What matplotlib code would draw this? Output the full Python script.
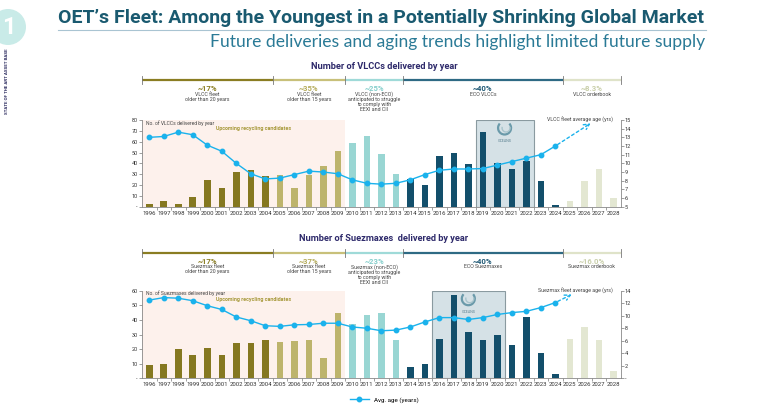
import matplotlib
matplotlib.use('Agg')
import matplotlib.pyplot as plt
from matplotlib.transforms import blended_transform_factory
from matplotlib.patches import Rectangle, Ellipse, Arc
from matplotlib.lines import Line2D

plt.rcParams['font.family'] = ['Roboto', 'DejaVu Sans']

years = list(range(1996, 2029))

# VLCC deliveries per year and fleet average age
vlcc_deliveries = [2.5, 5, 2.5, 8.5, 25, 17, 32, 34, 28, 29, 17.5, 29, 38, 51,
                   59, 65.5, 49, 30, 25.5, 20, 47, 50, 39, 68.5, 40, 35, 42, 24,
                   2, 5.5, 24, 35, 8]
vlcc_age = [13.0, 13.1, 13.6, 13.3, 12.1, 11.4, 10.0, 8.8, 8.2, 8.3, 8.7, 9.1,
            9.0, 8.8, 8.1, 7.7, 7.6, 7.7, 8.1, 8.7, 9.2, 9.35, 9.35, 9.4, 9.8,
            10.2, 10.6, 11.0, 12.0]
vlcc_age_proj = [(2024, 12.0), (2026.6, 14.8)]

# Suezmax deliveries per year and fleet average age
suez_deliveries = [9, 10, 20, 16, 20.5, 16, 24, 24, 26.5, 25, 25.5, 26, 14, 45,
                   37, 43.5, 45, 26.5, 8, 10, 27, 57, 32, 26, 30, 23, 42, 17.5,
                   3, 27, 35, 26, 5]
suez_age = [12.5, 12.9, 12.8, 12.4, 11.6, 11.0, 9.8, 9.2, 8.4, 8.3, 8.55, 8.6,
            8.8, 8.8, 8.2, 8.0, 7.6, 7.7, 8.2, 9.0, 9.7, 9.7, 9.4, 9.7, 10.2,
            10.5, 10.7, 11.3, 12.1]
suez_age_proj = [(2024, 12.1), (2025.3, 13.6)]

# fleet share brackets above each chart
bracket_edges = [1995.5, 2004.5, 2009.5, 2013.5, 2024.5, 2028.5]
vlcc_pcts = ['~17%', '~35%', '~25%', '~40%', '~8.3%']
vlcc_notes = ['VLCC fleet\nolder than 20 years', 'VLCC fleet\nolder than 15 years',
              'VLCC (non-ECO)\nanticipated to struggle\nto comply with\nEEXI and CII',
              'ECO VLCCs', 'VLCC orderbook']
suez_pcts = ['~17%', '~37%', '~23%', '~40%', '~16.0%']
suez_notes = ['Suezmax fleet\nolder than 20 years', 'Suezmax fleet\nolder than 15 years',
              'Suezmax (non-ECO)\nanticipated to struggle\nto comply with\nEEXI and CII',
              'ECO Suezmaxes', 'Suezmax orderbook']

group_colors = ['#857820', '#bdb46c', '#99d6d3', '#134f6b', '#e3e7d2']
bracket_colors = ['#8a7d22', '#c8c07a', '#9fdad8', '#2e6a84', '#dfe3c9']
pct_colors = ['#8a7d22', '#b5ac5b', '#86cfcc', '#1b5673', '#c9cfaa']
line_color = '#1ab2ec'
W, H = 768, 411


def bar_color(y):
    for i in range(5):
        if y < bracket_edges[i + 1]:
            return group_colors[i]
    return group_colors[-1]


def fy(py):
    return 1 - py / H


fig = plt.figure(figsize=(W / 100, H / 100), dpi=100)

# page header
fig.text(58 / W, fy(23), "OET\u2019s Fleet: Among the Youngest in a Potentially Shrinking Global Market",
         fontsize=14, fontweight='bold', color='#1a5a70', va='baseline', ha='left')
fig.add_artist(Line2D([58 / W, 706 / W], [fy(30), fy(30)], color='#a9c4d2', lw=0.8))
fig.text(705 / W, fy(42), 'Future deliveries and aging trends highlight limited future supply',
         fontsize=12.6, color='#2a7a96', va='center', ha='right', family=['Lato', 'DejaVu Sans'])
fig.add_artist(Ellipse((8 / W, fy(27)), 36 / W, 36 / H, color='#c9ebe8', lw=0))
fig.text(9 / W, fy(28), '1', fontsize=17, color='white', fontweight='bold', ha='center', va='center')
fig.text(7 / W, fy(81), 'STATE OF THE ART ASSET BASE', rotation=90, fontsize=3.2,
         fontweight='bold', color='#2b2a5e', ha='center', va='center')


def draw_panel(top, bottom, deliveries, age, proj, ymax, ystep, age_lim, age_step,
               title, title_y, bracket_y, pcts, notes, box, vessel, age_label):
    ax = fig.add_axes([142 / W, fy(bottom), 478.6 / W, (bottom - top) / H])
    tr = blended_transform_factory(ax.transData, fig.transFigure)
    ax.set_xlim(1995.5, 2028.5)
    ax.set_ylim(0, ymax)
    ax.add_patch(Rectangle((1995.5, 0), 14, ymax, color='#fdf1ec', lw=0, zorder=0))
    ax.add_patch(Rectangle((box[0], 0), box[1] - box[0], ymax, facecolor='#d5e1e6',
                           edgecolor='#8a9aa0', lw=0.8, zorder=0))
    ax.bar(years, deliveries, width=0.45, color=[bar_color(y) for y in years], zorder=2)
    ax.set_xticks(years)
    ax.set_xticklabels([str(y) for y in years], fontsize=4.3, color='#333333')
    ax.set_xticks([y + 0.5 for y in years[:-1]], minor=True)
    ax.tick_params(axis='x', which='major', length=0, pad=3)
    ax.tick_params(axis='x', which='minor', length=2, width=0.5, color='#777777')
    ticks = list(range(0, ymax + 1, ystep))
    ax.set_yticks(ticks)
    ax.set_yticklabels(['-'] + [str(t) for t in ticks[1:]], fontsize=4, color='#333333')
    ax.tick_params(axis='y', length=2, width=0.5, color='#777777', pad=1)
    for s in ['top', 'right']:
        ax.spines[s].set_visible(False)
    for s in ['left', 'bottom']:
        ax.spines[s].set_color('#888888')
        ax.spines[s].set_linewidth(0.6)
    ax.text(1995.8, ymax, 'No. of %s delivered by year' % vessel, fontsize=3.6, color='#444444',
            ha='left', va='top')
    ax.text(2003.2, ymax * 0.9, 'Upcoming recycling candidates', fontsize=3.9,
            fontweight='bold', color='#a89a3c', ha='center', va='center')

    ax2 = ax.twinx()
    ax2.set_ylim(*age_lim)
    ax2.plot(years[:len(age)], age, color=line_color, lw=1, marker='o', ms=3.2, zorder=3)
    ax2.annotate('', xy=proj[1], xytext=proj[0],
                 arrowprops=dict(arrowstyle='->', color=line_color, lw=1, ls=(0, (2, 2))))
    at = list(range(age_lim[0], age_lim[1] + 1, age_step))
    ax2.set_yticks(at)
    ax2.set_yticklabels(['-' if t == 0 else str(t) for t in at], fontsize=4, color='#333333')
    ax2.tick_params(axis='y', length=2, width=0.5, color='#777777', pad=1)
    for s in ['top', 'left', 'bottom']:
        ax2.spines[s].set_visible(False)
    ax2.spines['right'].set_color('#888888')
    ax2.spines['right'].set_linewidth(0.6)
    ax2.text(2028.0, age_lim[1], age_label, fontsize=3.8, color='#444444', ha='right', va='center')

    # logo in the highlighted box
    cx = (box[0] + box[1]) / 2
    lx = ax.transData.transform((cx, 0))[0] / W
    fig.add_artist(Arc((lx, fy(top + 8)), 13 / W, 13 / H, theta1=120, theta2=420,
                       color='#6a9aaa', lw=1.6))
    fig.add_artist(Arc((lx + 1.5 / W, fy(top + 8)), 8 / W, 8 / H, theta1=150, theta2=390,
                       color='#a8c4cc', lw=1))
    ax.text(cx, fy(top + 21), 'OCEANS', transform=tr, fontsize=2.6, color='#5a8090',
            ha='center', va='center')

    # section title and share brackets
    fig.text(0.5, fy(title_y), title, fontsize=6.7, fontweight='bold', color='#2e2a6b',
             ha='center', va='center')
    by = fy(bracket_y)
    for i in range(5):
        x0, x1 = bracket_edges[i], bracket_edges[i + 1]
        ax.add_artist(Line2D([x0, x1], [by, by], transform=tr, color=bracket_colors[i],
                             lw=1.6, clip_on=False, solid_capstyle='butt'))
        mid = (x0 + x1) / 2
        ax.text(mid, fy(bracket_y + 8.5), pcts[i], transform=tr, fontsize=5.6,
                fontweight='bold', color=pct_colors[i], ha='center', va='center', clip_on=False)
        ax.text(mid, fy(bracket_y + 11.5), notes[i], transform=tr, fontsize=3.8,
                color='#444444', ha='center', va='top', linespacing=1.0, clip_on=False)
    for e in bracket_edges:
        ax.add_artist(Line2D([e, e], [by - 4 / H, by + 4 / H], transform=tr, color='#777777',
                             lw=0.6, clip_on=False))
    return ax


draw_panel(120, 206.7, vlcc_deliveries, vlcc_age, vlcc_age_proj, 80, 10, (5, 15), 1,
           'Number of VLCCs delivered by year', 66.5, 80, vlcc_pcts, vlcc_notes,
           (2018.5, 2022.5), 'VLCCs', 'VLCC fleet average age (yrs)')
draw_panel(290.7, 378.3, suez_deliveries, suez_age, suez_age_proj, 60, 10, (0, 14), 2,
           'Number of Suezmaxes  delivered by year', 238.3, 252.7, suez_pcts, suez_notes,
           (2015.5, 2020.5), 'Suezmaxes', 'Suezmax fleet average age (yrs)')

handle = Line2D([], [], color=line_color, lw=1, marker='o', ms=3.2)
fig.legend([handle], ['Avg. age (years)'], loc='center', bbox_to_anchor=(0.5, fy(400)),
           frameon=False, fontsize=4.5, handlelength=3)

fig.savefig('out.png', dpi=100)
